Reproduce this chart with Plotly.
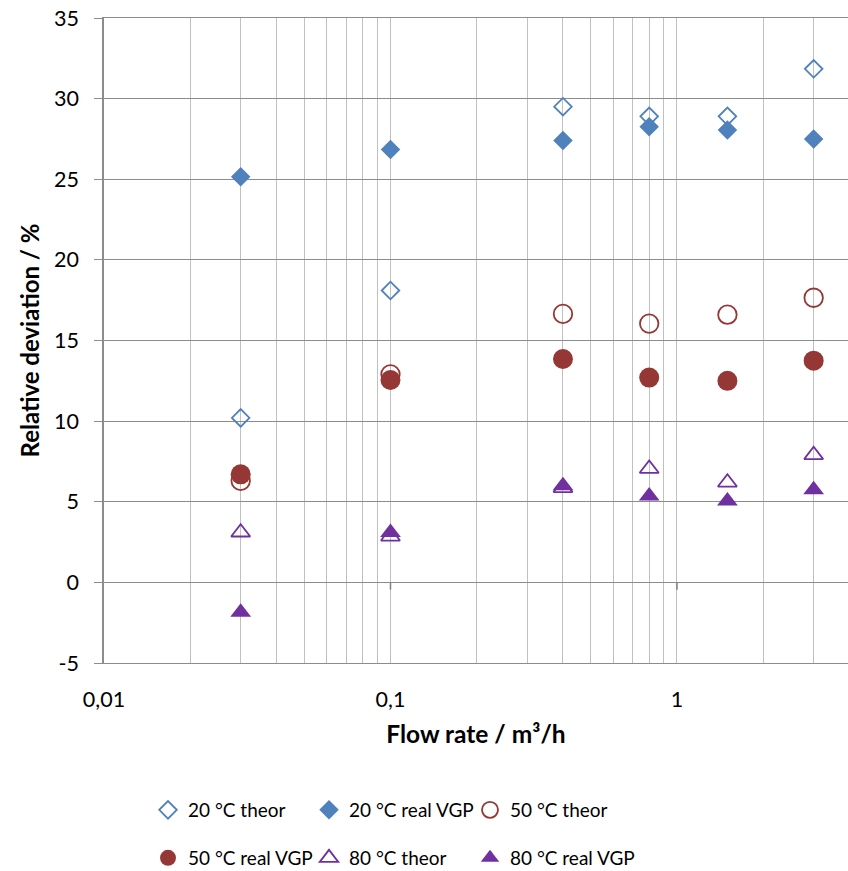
import plotly.graph_objects as go

# Flow rates (m³/h) and relative deviation (%) per temperature / method
flow = [0.03, 0.1, 0.4, 0.8, 1.5, 3.0]
t20_theor = [10.2, 18.1, 29.5, 28.9, 28.9, 31.85]
t20_real = [25.15, 26.85, 27.4, 28.25, 28.05, 27.5]
t50_theor = [6.3, 12.9, 16.65, 16.05, 16.6, 17.65]
t50_real = [6.7, 12.55, 13.85, 12.7, 12.5, 13.75]
t80_theor = [3.1, 2.85, 5.85, 7.05, 6.2, 7.9]
t80_real = [-1.85, 3.1, 6.0, 5.35, 5.05, 5.75]

decade_ticks = [0.01, 0.1, 1]
decade_labels = ["0,01", "0,1", "1"]
y_ticks = [-5, 0, 5, 10, 15, 20, 25, 30, 35]
y_labels = ["-5", "0", "5", "10", "15", "20", "25", "30", "35"]

BLUE = "#4F81BD"
RED = "#953735"
PURPLE = "#7030A0"
H_GRID = "#8C8C8C"
V_GRID = "#C0C0C0"
FONT = "Lato, 'Open Sans', sans-serif"

# log-axis gridlines at every 1..9 multiple, labels only at the decades
grid_vals, grid_text = [], []
for base, label in zip(decade_ticks, decade_labels):
    for d in range(1, 10):
        v = round(d * base, 6)
        if v <= 3.95:
            grid_vals.append(v)
            grid_text.append(label if d == 1 else "")

series = [
    ("20 °C theor", t20_theor, "diamond-open", BLUE, 13.5),
    ("20 °C real VGP", t20_real, "diamond", BLUE, 15),
    ("50 °C theor", t50_theor, "circle-open", RED, 18.5),
    ("50 °C real VGP", t50_real, "circle", RED, 20),
    ("80 °C theor", t80_theor, "triangle-up-open", PURPLE, 16.5),
    ("80 °C real VGP", t80_real, "triangle-up", PURPLE, 18),
]

# legend laid out as a 3-column, 2-row grid below the axis (pixel positions)
legend_cols_px = [148, 309, 470]
legend_rows_px = [810, 858]

fig = go.Figure()

# small x-axis tick marks where the horizontal axis crosses at zero
tx, ty = [], []
for v in decade_ticks[1:]:
    tx += [v, v, None]
    ty += [0, -0.45, None]
fig.add_trace(go.Scatter(x=tx, y=ty, mode="lines", line=dict(color="#7F7F7F", width=1.5),
                         showlegend=False, hoverinfo="skip"))

legend_layout = {}
for i, (name, vals, sym, col, size) in enumerate(series):
    key = "legend" if i == 0 else f"legend{i + 1}"
    fig.add_trace(go.Scatter(
        x=flow, y=vals, mode="markers", name=name, legend=key,
        marker=dict(symbol=sym, color=col, size=size,
                    line=dict(color=col, width=1.8 if "open" in sym else 0)),
    ))
    legend_layout[key] = dict(
        orientation="h", xanchor="left", yanchor="middle",
        xref="container", yref="container",
        x=legend_cols_px[i % 3] / 848, y=(871 - legend_rows_px[i // 3]) / 871,
        font=dict(family=FONT, size=19, color="#000000"),
        bgcolor="rgba(0,0,0,0)", itemwidth=30,
    )

fig.update_layout(
    width=848, height=871,
    margin=dict(l=104, r=0, t=18, b=208),
    paper_bgcolor="white", plot_bgcolor="white",
    font=dict(family=FONT, size=20, color="#000000"),
    xaxis=dict(
        type="log", range=[-2, 0.597],
        tickvals=grid_vals, ticktext=grid_text, ticks="",
        showgrid=True, gridcolor=V_GRID, gridwidth=1.2,
        showline=True, linecolor=H_GRID, linewidth=1.3, mirror=True,
        zeroline=False, ticklabelstandoff=17,
        tickfont=dict(family=FONT, size=21.5),
        title=dict(text="<b>Flow rate / m³/h</b>", font=dict(family=FONT, size=24.5), standoff=14),
    ),
    yaxis=dict(
        range=[-5, 35], tickvals=y_ticks, ticktext=y_labels, ticks="outside", ticklen=8,
        tickcolor=H_GRID, tickwidth=1.3,
        showgrid=True, gridcolor=H_GRID, gridwidth=1.3,
        showline=True, linecolor=H_GRID, linewidth=1.5,
        zeroline=False, ticklabelstandoff=11,
        tickfont=dict(family=FONT, size=21.5),
        title=dict(text="<b>Relative deviation / %</b>", font=dict(family=FONT, size=24), standoff=8),
    ),
    **legend_layout,
)

fig.write_html("out.html")
